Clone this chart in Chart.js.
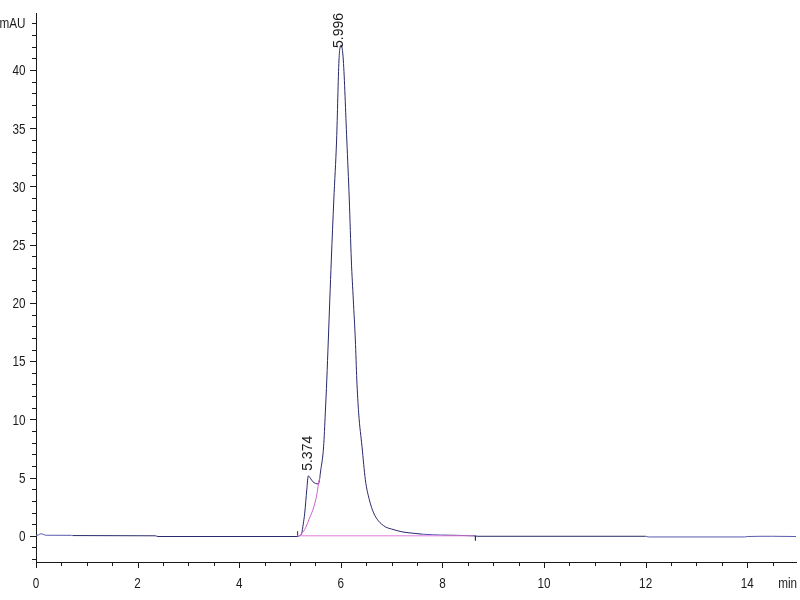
<!DOCTYPE html>
<html>
<head>
<meta charset="utf-8">
<script src="https://cdn.jsdelivr.net/npm/chart.js@4.4.1/dist/chart.umd.min.js"></script>
<style>
  html, body { margin: 0; padding: 0; background: #ffffff; }
  #wrap { width: 800px; height: 600px; }
</style>
</head>
<body>
<div id="wrap"><canvas id="c" width="800" height="600"></canvas></div>
<script>
// ---- data ----
const traceTime = [
  0.00, 0.05, 0.10, 0.14, 0.20, 0.70, 0.72, 2.35, 2.40, 5.15, 5.20, 5.23, 5.26, 5.29, 5.33,
  5.36, 5.40, 5.45, 5.50, 5.56, 5.606, 5.661, 5.695, 5.724, 5.754, 5.783, 5.813, 5.862, 5.917,
  5.964, 6.004, 6.049, 6.118, 6.167, 6.207, 6.246, 6.286, 6.315, 6.351, 6.418, 6.483, 6.562,
  6.646, 6.739, 6.877, 7.00, 7.206, 7.40, 7.60, 8.00, 8.60, 8.70, 12.00, 12.05,
  13.95, 14.00, 14.50, 14.96
];
const traceSignal = [
  0.02, 0.08, 0.18, 0.12, 0.05, 0.04, 0.02, 0.00, -0.06, -0.06, 0.05, 0.20, 1.00, 1.95, 3.95,
  5.15, 4.95, 4.65, 4.50, 4.46, 5.67, 7.64, 10.56, 13.39, 16.82, 20.26, 23.69, 28.84, 33.99,
  40.86, 42.15, 40.86, 33.99, 28.84, 23.69, 20.26, 16.82, 13.39, 10.56, 7.64, 4.81, 3.09,
  1.97, 1.29, 0.77, 0.58, 0.34, 0.23, 0.14, 0.06, 0.00, -0.04, -0.04, -0.10,
  -0.10, -0.06, -0.04, -0.06
];
// integration baseline (shoulder skim + horizontal baseline)
const skimTime   = [5.20, 5.29, 5.37, 5.47, 5.53, 5.56, 5.59];
const skimSignal = [0.05, 0.55, 1.37, 2.50, 3.60, 4.46, 5.10];
const baseTime   = [5.15, 8.60];
const baseSignal = [0.00, 0.00];
// peak annotations
const peakTimes   = [5.374, 5.996];
const peakHeights = [5.15, 42.15];
const peakLabels  = ['5.374', '5.996'];
// integration event marks
const markTime = [5.15, 8.65];
const markFrom = [0.00, 0.00];
const markTo   = [0.40, -0.40];
// axes
const xTickValues = [0, 2, 4, 6, 8, 10, 12, 14];
const yTickValues = [0, 5, 10, 15, 20, 25, 30, 35, 40];
const xUnit = 'min';
const yUnit = 'mAU';

// ---- build ----
const zip = (xs, ys) => xs.map((x, i) => ({ x: x, y: ys[i] }));
const markPts = [];
markTime.forEach((t, i) => { markPts.push({ x: t, y: markFrom[i] }, { x: t, y: markTo[i] }, { x: t, y: null }); });

const FONT_REG = "'Liberation Sans', Arial, sans-serif";
const X_MIN = 0, X_MAX = 14.96, Y_MIN = -2.25, Y_MAX = 44.9;
const Y_UNIT_POS = 44;
const INK = '#1a1a1a';

// draws minor/major tick marks, condensed (Arial-Narrow-like) tick labels and peak labels
const axisPlugin = {
  id: 'axisDecor',
  afterDraw(chart) {
    const ctx = chart.ctx;
    const xs = chart.scales.x, ys = chart.scales.y;
    const area = chart.chartArea;
    ctx.save();
    ctx.strokeStyle = INK;
    ctx.lineWidth = 1;
    ctx.beginPath();
    for (let v = 0; v <= 14.5 + 1e-9; v += 0.5) {
      const major = Math.abs(v / 2 - Math.round(v / 2)) < 1e-6;
      const px = Math.round(xs.getPixelForValue(v)) + 0.5;
      ctx.moveTo(px, area.bottom);
      ctx.lineTo(px, area.bottom + (major ? 6 : 4));
    }
    for (let v = -2; v <= 44 + 1e-9; v += 1) {
      const major = v % 5 === 0;
      const py = Math.round(ys.getPixelForValue(v)) + 0.5;
      ctx.moveTo(area.left, py);
      ctx.lineTo(area.left - (major ? 6 : 4), py);
    }
    ctx.stroke();

    // tick labels, condensed horizontally
    const SX = 0.78;
    ctx.fillStyle = INK;
    ctx.font = "15px " + FONT_REG;
    ctx.textBaseline = 'alphabetic';
    const drawNarrow = (text, x, y, align) => {
      const w = ctx.measureText(text).width * SX;
      let left = x;
      if (align === 'center') left = x - w / 2;
      else if (align === 'right') left = x - w;
      ctx.save();
      ctx.translate(left, y);
      ctx.scale(SX, 1);
      ctx.textAlign = 'left';
      ctx.fillText(text, 0, 0);
      ctx.restore();
    };
    xTickValues.forEach(v => drawNarrow(String(v), xs.getPixelForValue(v), area.bottom + 26, 'center'));
    drawNarrow(xUnit, area.right + 1, area.bottom + 26, 'right');
    yTickValues.forEach(v => drawNarrow(String(v), area.left - 10.5, ys.getPixelForValue(v) + 5.3, 'right'));
    drawNarrow(yUnit, area.left - 10.5, ys.getPixelForValue(Y_UNIT_POS) + 4.5, 'right');

    // peak retention-time labels (rotated)
    ctx.font = "14px " + FONT_REG;
    ctx.textBaseline = 'middle';
    ctx.textAlign = 'left';
    peakLabels.forEach((lab, i) => {
      const px = xs.getPixelForValue(peakTimes[i]);
      const py = ys.getPixelForValue(peakHeights[i]);
      const w = ctx.measureText(lab).width;
      const bottom = Math.max(py - 5, area.top + w);
      ctx.save();
      ctx.translate(px - 1, bottom);
      ctx.rotate(-Math.PI / 2);
      ctx.fillText(lab, 0, 0);
      ctx.restore();
    });
    ctx.restore();
  }
};

new Chart(document.getElementById('c'), {
  type: 'line',
  data: {
    datasets: [
      {
        data: zip(baseTime, baseSignal),
        borderColor: '#e07ee0', borderWidth: 1, pointRadius: 0, tension: 0
      },
      {
        data: zip(skimTime, skimSignal),
        borderColor: '#d060d0', borderWidth: 1, pointRadius: 0, cubicInterpolationMode: 'monotone'
      },
      {
        data: zip(traceTime, traceSignal),
        borderColor: '#28286a', borderWidth: 1, pointRadius: 0,
        cubicInterpolationMode: 'monotone',
        segment: {
          borderColor: c => {
            const x = c.p0.parsed.x;
            return (x < 0.71 || x >= 12.0) ? '#5858b0' : (x > 7.5 && x < 8.0 ? '#5050b8' : '#28286a');
          }
        }
      },
      {
        data: markPts,
        borderColor: '#303040', borderWidth: 1, pointRadius: 0, spanGaps: false, tension: 0
      }
    ]
  },
  options: {
    responsive: false,
    animation: false,
    events: [],
    layout: { padding: { top: 13, right: 4, left: 0, bottom: 0 } },
    plugins: { legend: { display: false }, title: { display: false }, tooltip: { enabled: false } },
    scales: {
      x: {
        type: 'linear', min: X_MIN, max: X_MAX,
        grid: { display: false },
        border: { display: true, color: INK, width: 1 },
        afterBuildTicks: s => { s.ticks = xTickValues.map(v => ({ value: v })); },
        afterFit: s => { s.height = 38; },
        ticks: { display: false }
      },
      y: {
        type: 'linear', min: Y_MIN, max: Y_MAX,
        grid: { display: false },
        border: { display: true, color: INK, width: 1 },
        afterBuildTicks: s => { s.ticks = yTickValues.map(v => ({ value: v })); },
        afterFit: s => { s.width = 36; },
        ticks: { display: false }
      }
    }
  },
  plugins: [axisPlugin]
});
</script>
</body>
</html>
